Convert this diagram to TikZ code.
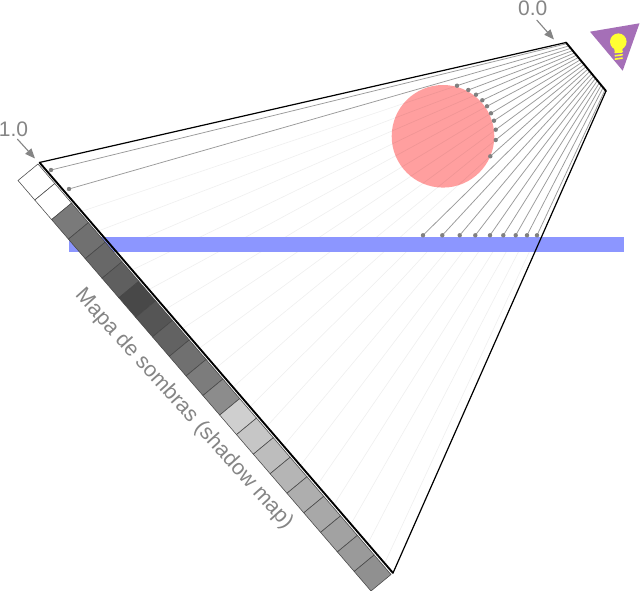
\documentclass[tikz,border=0pt]{standalone}
\usepackage{fontspec}
\setmainfont{Liberation Sans}
\usetikzlibrary{calc,arrows.meta}
\definecolor{raydark}{HTML}{9A9A9A}
\definecolor{dotgray}{HTML}{808080}
\definecolor{labelgray}{HTML}{858585}
\definecolor{bandblue}{HTML}{8C96FF}
\definecolor{spherered}{HTML}{FF9F9F}
\definecolor{iconpurple}{HTML}{A56FB7}
\definecolor{bulbyellow}{HTML}{FFFF33}
\tikzset{
  hitray/.style={raydark,line width=0.75pt},
  passray/.style={black,opacity=0.06,line width=0.7pt},
  hitdot/.style={fill=dotgray,draw=none},
  frustumthin/.style={black,line width=1.2pt},
  frustumthick/.style={black,line width=1.9pt},
  cell/.style={draw=black!72,line width=0.55pt},
  pointer/.style={labelgray,line width=1.1pt,-{Triangle[length=10pt,width=8pt]}},
  biglabel/.style={text=labelgray,font=\fontsize{21}{24}\selectfont,inner sep=0pt},
  maplabel/.style={text=labelgray,font=\fontsize{21.5}{25}\selectfont,inner sep=0pt}
}
\begin{document}
\begin{tikzpicture}[x=1pt,y=-1pt]
\useasboundingbox (0,0) rectangle (640,591);
\fill[white] (0,0) rectangle (640,591);
% frustum corners
\coordinate (nearA) at (566,42.5);
\coordinate (nearB) at (606,91);
\coordinate (farA) at (39.5,162.5);
\coordinate (farB) at (393,573);
\coordinate (mapA) at (38,164);
\coordinate (mapB) at (391,574.5);
% sphere below the rays
\fill[spherered] (443,136.3) circle[radius=51.3];
% rays
\foreach \i/\dx/\dy in {0/51/170,1/69/189,
  2/457/85.7,3/468.3/90,4/476/94.7,5/482.3/100.3,6/487/106.3,7/491/113.3,8/494/120.7,9/495.7/129.7,10/495.7/140,11/490.3/156.3,
  12/423/235.3,13/442.3/235.3,14/459.7/235.3,15/475.3/235.3,16/490/235.3,17/503.3/235.3,18/515.7/235.3,19/527/235.3,20/537/235.3}{
  \pgfmathsetmacro{\t}{(\i+0.5)/21}
  \coordinate (N\i) at ($(nearA)!\t!(nearB)$);
  \coordinate (F\i) at ($(farA)!\t!(farB)$);
  \coordinate (D\i) at (\dx,\dy);
  \draw[passray] (D\i) -- (F\i);
  \draw[hitray] (N\i) -- (D\i);
}
% blue plane
\fill[bandblue] (69,237) rectangle (623.5,252);
% hit dots
\foreach \i in {0,...,20}{
  \fill[hitdot] (D\i) circle[radius=2.2];
}
% shadow map
\foreach \k/\g in {0/255,1/255,2/122,3/112,4/104,5/95,6/72,7/85,8/98,9/112,10/124,11/140,
  12/207,13/198,14/189,15/181,16/174,17/168,18/162,19/154,20/144}{
  \pgfmathsetmacro{\ta}{\k/21}
  \pgfmathsetmacro{\tb}{(\k+1)/21}
  \coordinate (Ma) at ($(mapA)!\ta!(mapB)$);
  \coordinate (Mb) at ($(mapA)!\tb!(mapB)$);
  \definecolor{cellfill}{RGB}{\g,\g,\g}
  \draw[cell,fill=cellfill] (Ma) -- (Mb) -- ($(Mb)+(-20,16.5)$) -- ($(Ma)+(-20,16.5)$) -- cycle;
}
% frustum outline
\draw[frustumthin] (farA) -- (nearA);
\draw[frustumthin] (nearB) -- (farB);
\draw[frustumthick,line cap=round] (nearA) -- (nearB);
\draw[frustumthick,line cap=round] (farA) -- (farB);
% labels
\node[biglabel] (labelnear) at (532.7,8) {0.0};
\node[biglabel] (labelfar) at (13.5,129.5) {1.0};
\coordinate (ptrNearS) at (536.7,20);
\coordinate (ptrNearE) at (554,39.5);
\coordinate (ptrFarS) at (17.3,139);
\coordinate (ptrFarE) at (35,158.5);
\draw[pointer] (ptrNearS) -- (ptrNearE);
\draw[pointer] (ptrFarS) -- (ptrFarE);
\node[maplabel,rotate=-48] (labelmap) at (184,409) {Mapa de sombras (shadow map)};
% light icon
\fill[iconpurple] (590,31.7) -- (639.5,23.3) -- (622.7,70.7) -- cycle;
\fill[bulbyellow] (618.3,41.7) circle[radius=8.3];
\fill[bulbyellow] (613.8,47) -- (622.8,47) -- (622,53) -- (615,53) -- cycle;
\foreach \yy in {52,55.3,58.6}{
  \draw[bulbyellow,line width=1.6pt,line cap=round] (615.2,\yy+0.5) -- (622.3,\yy-0.5);
}
\end{tikzpicture}
\end{document}
